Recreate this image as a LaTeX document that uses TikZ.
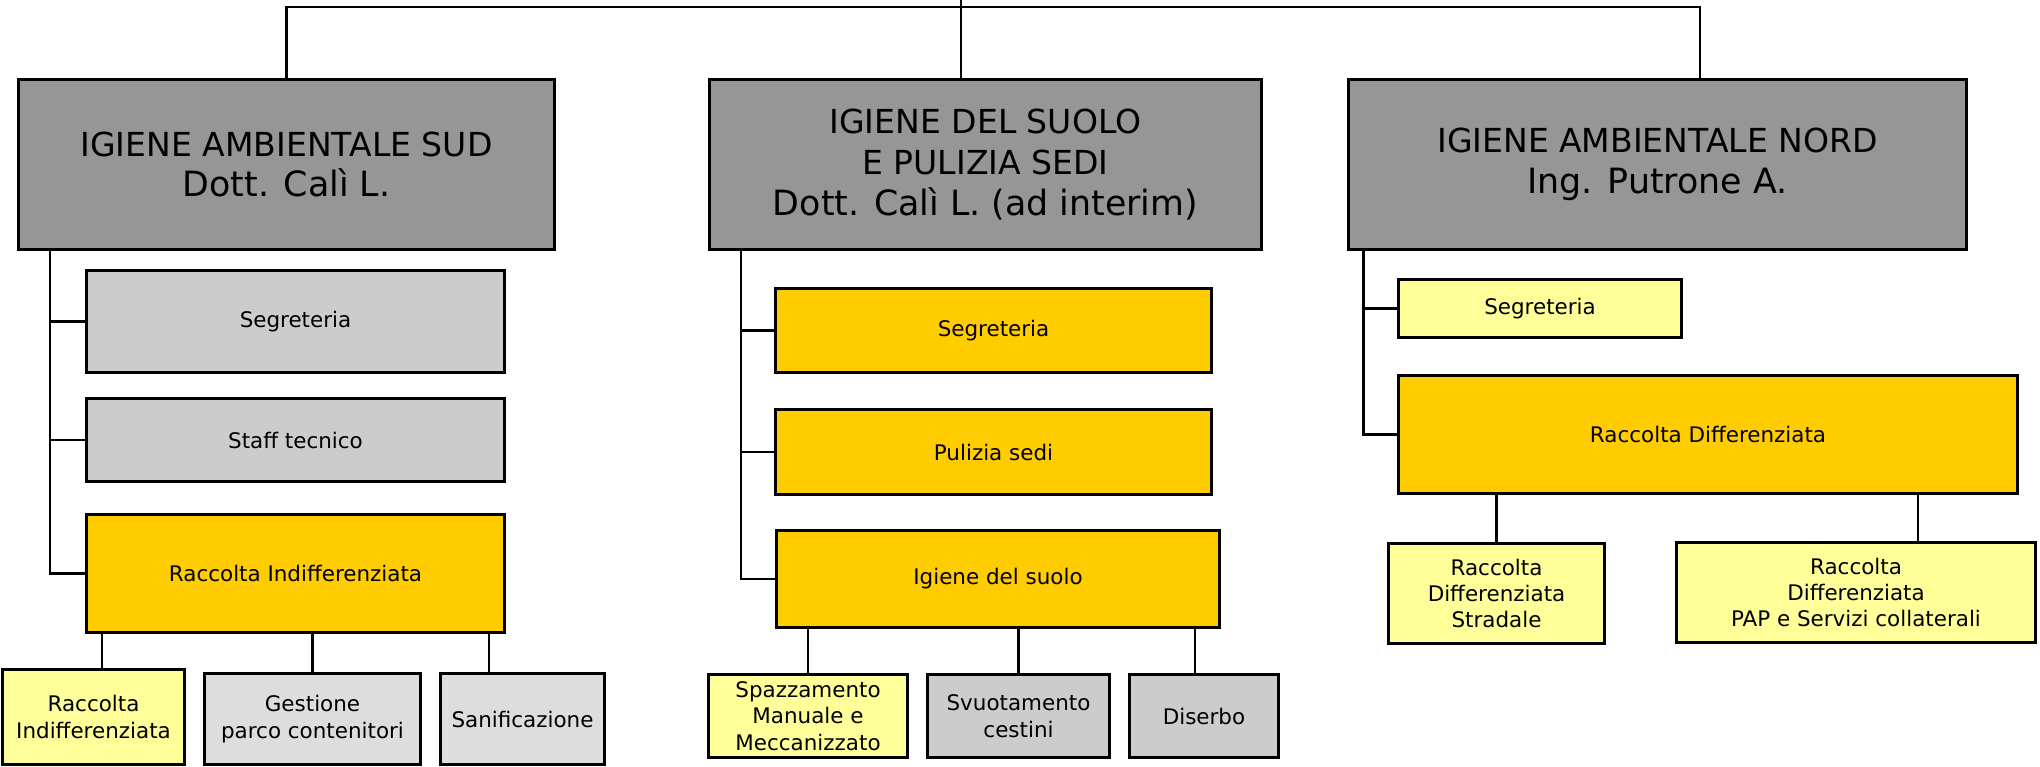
\documentclass[tikz,border=0pt]{standalone}
\usepackage{fontspec}
\setmainfont{DejaVu Sans}
\usepackage{tikz}
\usetikzlibrary{positioning,calc}
\definecolor{headgray}{HTML}{969696}
\definecolor{boxgray}{HTML}{CCCCCC}
\definecolor{palegray}{HTML}{DDDDDD}
\definecolor{gold}{HTML}{FFCC00}
\definecolor{paleyellow}{HTML}{FFFF99}
\newcommand{\namefont}{\fontsize{9.9}{12}\selectfont}
\tikzset{box/.style = {draw,line width=0.85pt,inner sep=0pt,align=center,
                       font=\fontsize{6.1}{7.5}\selectfont},
         head/.style = {box,fill=headgray,minimum height=1.70cm,
                       font=\fontsize{9.4}{11.6}\selectfont},
         link/.style = {line width=0.6pt}}

\begin{document}
\begin{tikzpicture}[x=0.01cm, y=-0.01cm]
            \useasboundingbox (0,0) rectangle (2040,767);

            % direzioni
            \node[head, minimum width=5.36cm] (sud)   at ( 286.5,164.5) {IGIENE AMBIENTALE SUD\\{\namefont Dott. Calì L.}};
            \node[head, minimum width=5.52cm] (suolo) at ( 985.5,164.5) {IGIENE DEL SUOLO\\E PULIZIA SEDI\\{\namefont Dott. Calì L. (ad interim)}};
            \node[head, minimum width=6.18cm] (nord)  at (1657.5,164.5) {IGIENE AMBIENTALE NORD\\{\namefont Ing. Putrone A.}};

            \coordinate (bus)  at ( 961,0);
            \coordinate (busL) at (286.5,7);
            \coordinate (busR) at (1700,7);
            \draw[link] (bus) -- (bus |- suolo.north);
            \draw[link] (sud.north) -- (busL) -- (busR) -- (busR |- nord.north);

            % igiene ambientale sud
            \node[box, fill=boxgray, minimum width=4.18cm, minimum height=1.02cm] (sudSeg)   at (295.5,321.5) {Segreteria};
            \node[box, fill=boxgray, minimum width=4.18cm, minimum height=0.83cm] (sudStaff) at (295.5,440)   {Staff tecnico};
            \node[box, fill=gold,    minimum width=4.18cm, minimum height=1.18cm] (sudRI)    at (295.5,573.5) {Raccolta Indifferenziata};
            \node[box, fill=paleyellow, minimum width=1.82cm, minimum height=0.94cm] (sudRIa) at ( 93.5,717)   {Raccolta\\Indifferenziata};
            \node[box, fill=palegray, minimum width=2.16cm, minimum height=0.90cm] (sudGest)  at (312.5,719)   {Gestione\\parco contenitori};
            \node[box, fill=palegray, minimum width=1.64cm, minimum height=0.90cm] (sudSan)   at (522.5,719)   {Sanificazione};

            \coordinate (sudT) at (50,251);
            \draw[link] (sudT) |- (sudRI.west);
            \draw[link] (sudT |- sudSeg.west) -- (sudSeg.west);
            \draw[link] (sudT |- sudStaff.west) -- (sudStaff.west);
            \draw[link] ([xshift=0.085cm]sudRIa.north) -- ([xshift=0.085cm]sudRIa.north |- sudRI.south);
            \draw[link] (sudGest.north) -- (sudGest.north |- sudRI.south);
            \draw[link] ([xshift=-0.335cm]sudSan.north) -- ([xshift=-0.335cm]sudSan.north |- sudRI.south);

            % igiene del suolo e pulizia sedi
            \node[box, fill=gold, minimum width=4.36cm, minimum height=0.84cm] (midSeg) at (993.5,330.5) {Segreteria};
            \node[box, fill=gold, minimum width=4.36cm, minimum height=0.85cm] (midPul) at (993.5,452)   {Pulizia sedi};
            \node[box, fill=gold, minimum width=4.43cm, minimum height=0.97cm] (midIg)  at (998,579)     {Igiene del suolo};
            \node[box, fill=paleyellow, minimum width=1.99cm, minimum height=0.83cm] (midSpaz) at ( 808,716) {Spazzamento\\Manuale e\\Meccanizzato};
            \node[box, fill=boxgray, minimum width=1.82cm, minimum height=0.83cm] (midSvuo) at (1018.5,716) {Svuotamento\\cestini};
            \node[box, fill=boxgray, minimum width=1.49cm, minimum height=0.83cm] (midDis)  at (1204,716)   {Diserbo};

            \coordinate (midT) at (741,251);
            \draw[link] (midT) |- (midIg.west);
            \draw[link] (midT |- midSeg.west) -- (midSeg.west);
            \draw[link] (midT |- midPul.west) -- (midPul.west);
            \draw[link] (midSpaz.north) -- (midSpaz.north |- midIg.south);
            \draw[link] (midSvuo.north) -- (midSvuo.north |- midIg.south);
            \draw[link] ([xshift=-0.09cm]midDis.north) -- ([xshift=-0.09cm]midDis.north |- midIg.south);

            % igiene ambientale nord
            \node[box, fill=paleyellow, minimum width=2.83cm, minimum height=0.58cm] (nordSeg) at (1540,308.5) {Segreteria};
            \node[box, fill=gold, minimum width=6.19cm, minimum height=1.18cm] (nordRD) at (1708,434.5) {Raccolta Differenziata};
            \node[box, fill=paleyellow, minimum width=2.16cm, minimum height=1.00cm] (nordStr) at (1496.5,593.5) {Raccolta\\Differenziata\\Stradale};
            \node[box, fill=paleyellow, minimum width=3.59cm, minimum height=1.00cm] (nordPAP) at (1856,592.5) {Raccolta\\Differenziata\\PAP e Servizi collaterali};

            \coordinate (nordT) at (1363.5,251);
            \draw[link] (nordT) |- (nordRD.west);
            \draw[link] (nordT |- nordSeg.west) -- (nordSeg.west);
            \draw[link] (nordStr.north) -- (nordStr.north |- nordRD.south);
            \draw[link] ([xshift=0.62cm]nordPAP.north) -- ([xshift=0.62cm]nordPAP.north |- nordRD.south);
        \end{tikzpicture}
\end{document}
